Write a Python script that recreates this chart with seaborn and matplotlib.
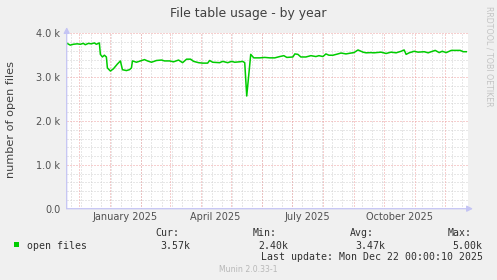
import matplotlib
matplotlib.use("Agg")
import matplotlib.pyplot as plt
import seaborn as sns
import pandas as pd
import numpy as np

# ---- data ----
dates = [
    "2024-11-18", "2024-11-22", "2024-11-25", "2024-11-29", "2024-12-02", "2024-12-05",
    "2024-12-07", "2024-12-10", "2024-12-13", "2024-12-16", "2024-12-18", "2024-12-21",
    "2024-12-22", "2024-12-24", "2024-12-26", "2024-12-28", "2024-12-29", "2025-01-01",
    "2025-01-04", "2025-01-08", "2025-01-11", "2025-01-13", "2025-01-17", "2025-01-20",
    "2025-01-22", "2025-01-23", "2025-01-27", "2025-01-31", "2025-02-04", "2025-02-07",
    "2025-02-11", "2025-02-16", "2025-02-21", "2025-02-24", "2025-03-01", "2025-03-05",
    "2025-03-10", "2025-03-14", "2025-03-18", "2025-03-22", "2025-03-25", "2025-03-30",
    "2025-04-03", "2025-04-08", "2025-04-10", "2025-04-13", "2025-04-20", "2025-04-23",
    "2025-04-28", "2025-05-02", "2025-05-05", "2025-05-10", "2025-05-13", "2025-05-15",
    "2025-05-17", "2025-05-21", "2025-05-24", "2025-05-30", "2025-06-04", "2025-06-09",
    "2025-06-14", "2025-06-19", "2025-06-23", "2025-06-26", "2025-07-02", "2025-07-04",
    "2025-07-07", "2025-07-10", "2025-07-15", "2025-07-20", "2025-07-25", "2025-07-28",
    "2025-08-01", "2025-08-04", "2025-08-07", "2025-08-11", "2025-08-16", "2025-08-19",
    "2025-08-24", "2025-08-29", "2025-09-01", "2025-09-05", "2025-09-10", "2025-09-13",
    "2025-09-18", "2025-09-21", "2025-09-28", "2025-10-03", "2025-10-08", "2025-10-13",
    "2025-10-18", "2025-10-21", "2025-10-23", "2025-10-26", "2025-10-31", "2025-11-04",
    "2025-11-10", "2025-11-14", "2025-11-17", "2025-11-21", "2025-11-25", "2025-11-28",
    "2025-12-02", "2025-12-07", "2025-12-12", "2025-12-16", "2025-12-19", "2025-12-22",
]
open_files = [
    3780, 3730, 3750, 3760, 3750, 3770,
    3740, 3770, 3760, 3780, 3750, 3780,
    3520, 3460, 3500, 3460, 3210, 3140,
    3190, 3300, 3370, 3170, 3150, 3170,
    3210, 3370, 3340, 3370, 3400, 3370,
    3340, 3380, 3390, 3370, 3370, 3350,
    3390, 3330, 3410, 3410, 3360, 3330,
    3320, 3320, 3380, 3340, 3330, 3360,
    3330, 3360, 3340, 3350, 3360, 3330,
    2570, 3520, 3440, 3440, 3450, 3440,
    3440, 3470, 3490, 3450, 3460, 3530,
    3520, 3460, 3460, 3490, 3470, 3490,
    3470, 3530, 3500, 3500, 3530, 3550,
    3530, 3550, 3560, 3620, 3570, 3555,
    3560, 3555, 3570, 3540, 3570, 3555,
    3590, 3620, 3520, 3555, 3590, 3570,
    3580, 3555, 3580, 3610, 3560, 3590,
    3560, 3610, 3610, 3610, 3580, 3580,
]
y_ticks = [0, 1000, 2000, 3000, 4000]
y_tick_labels = ["0.0", "1.0 k", "2.0 k", "3.0 k", "4.0 k"]
x_label_dates = ["2025-01-16", "2025-04-16", "2025-07-16", "2025-10-16"]
x_labels = ["January 2025", "April 2025", "July 2025", "October 2025"]
legend_name = "open files"
stat_headers = ["Cur:", "Min:", "Avg:", "Max:"]
stat_values = ["3.57k", "2.40k", "3.47k", "5.00k"]

# ---- figure ----
W, H = 497, 280
BG = "#f0f0f0"
fig = plt.figure(figsize=(W / 100, H / 100), dpi=100, facecolor=BG)
L, R, T, B = 66.7, 467.7, 33.3, 208.7
ax = fig.add_axes([L / W, 1 - B / H, (R - L) / W, (B - T) / H])
ax.set_facecolor("white")

df = pd.DataFrame({"date": pd.to_datetime(dates), "value": open_files})

xmin = pd.Timestamp("2024-11-18 10:00")
xmax = pd.Timestamp("2025-12-23 10:00")
ax.set_xlim(xmin, xmax)
ax.set_ylim(0, 4000)

# grid
red = "#eea0a0"
gray = "#d0d0d0"
dot = (0, (1, 2))
lw = 0.72
for v in range(0, 4001, 200):
    if v % 1000 == 0:
        continue
    ax.axhline(v, color=gray, lw=lw, ls=dot, zorder=1)
# 10-day minor grid (aligned to epoch days)
epoch = pd.Timestamp("1970-01-01")
d = int(np.ceil((xmin - epoch).days / 10) * 10)
while epoch + pd.Timedelta(days=d) < xmax:
    ax.axvline(epoch + pd.Timedelta(days=d), color=gray, lw=lw, ls=dot, zorder=1)
    d += 10
for m in pd.date_range("2024-12-01", "2025-12-01", freq="MS"):
    ax.axvline(m, color=red, lw=lw, ls=dot, zorder=2)
for v in range(1000, 4001, 1000):
    ax.axhline(v, color=red, lw=lw, ls=dot, zorder=2)

sns.lineplot(data=df, x="date", y="value", ax=ax, color="#00cc00", lw=1.1, zorder=5)

for s in ax.spines.values():
    s.set_visible(False)

ax.set_yticks(y_ticks)
ax.set_yticklabels(y_tick_labels)
ax.set_xticks(pd.to_datetime(x_label_dates))
ax.set_xticklabels(x_labels)
ax.tick_params(axis="both", length=0, labelsize=7.0, colors="#505050")
ax.tick_params(axis="y", pad=4.6)
ax.tick_params(axis="x", pad=2.3)
ax.set_xlabel("")
ax.set_ylabel("")

# axis lines with arrows
axc = "#c4c4f4"
ax.annotate("", xy=(0, 1.035), xytext=(0, 0), xycoords="axes fraction",
            arrowprops=dict(arrowstyle="-|>,head_length=0.35,head_width=0.18", color=axc, lw=0.9,
                            shrinkA=0, shrinkB=0), annotation_clip=False, zorder=6)
ax.annotate("", xy=(1.013, 0), xytext=(0, 0), xycoords="axes fraction",
            arrowprops=dict(arrowstyle="-|>,head_length=0.35,head_width=0.18", color=axc, lw=0.9,
                            shrinkA=0, shrinkB=0), annotation_clip=False, zorder=6)

# texts
fig.text(248.5 / W, 1 - 13.3 / H, "File table usage - by year", ha="center", va="center",
         fontsize=8.9, color="#404040")
fig.text(10.7 / W, 1 - 119 / H, "number of open files", ha="center", va="center",
         rotation=90, fontsize=8.1, color="#404040")
fig.text(488.5 / W, 1 - 56.5 / H, "RRDTOOL / TOBI OETIKER", ha="center", va="center",
         rotation=270, fontsize=5.7, color="#c4c4c4")

mono = "DejaVu Sans Mono"
fs = 7.1
fig.patches.append(plt.Rectangle((14 / W, 1 - 247 / H), 5.3 / W, 5.3 / H, transform=fig.transFigure,
                                 facecolor="#00cc00", edgecolor="none"))
fig.text(26.7 / W, 1 - 245.7 / H, legend_name, ha="left", va="center", family=mono,
         fontsize=fs, color="#303030")
hx = [155.0, 252.7, 350.0, 447.7]
vx = [190.0, 288.3, 385.0, 482.7]
for h, v, a, b in zip(stat_headers, stat_values, hx, vx):
    fig.text(a / W, 1 - 233.5 / H, h, ha="left", va="center", family=mono, fontsize=fs, color="#303030")
    fig.text(b / W, 1 - 245.7 / H, v, ha="right", va="center", family=mono, fontsize=fs, color="#303030")
fig.text(482.7 / W, 1 - 257.3 / H, "Last update: Mon Dec 22 00:00:10 2025", ha="right", va="center",
         family=mono, fontsize=fs, color="#303030")
fig.text(248.8 / W, 1 - 269.3 / H, "Munin 2.0.33-1", ha="center", va="center",
         fontsize=5.6, color="#b8b8b8")

fig.savefig("out.png", dpi=100, facecolor=BG)
